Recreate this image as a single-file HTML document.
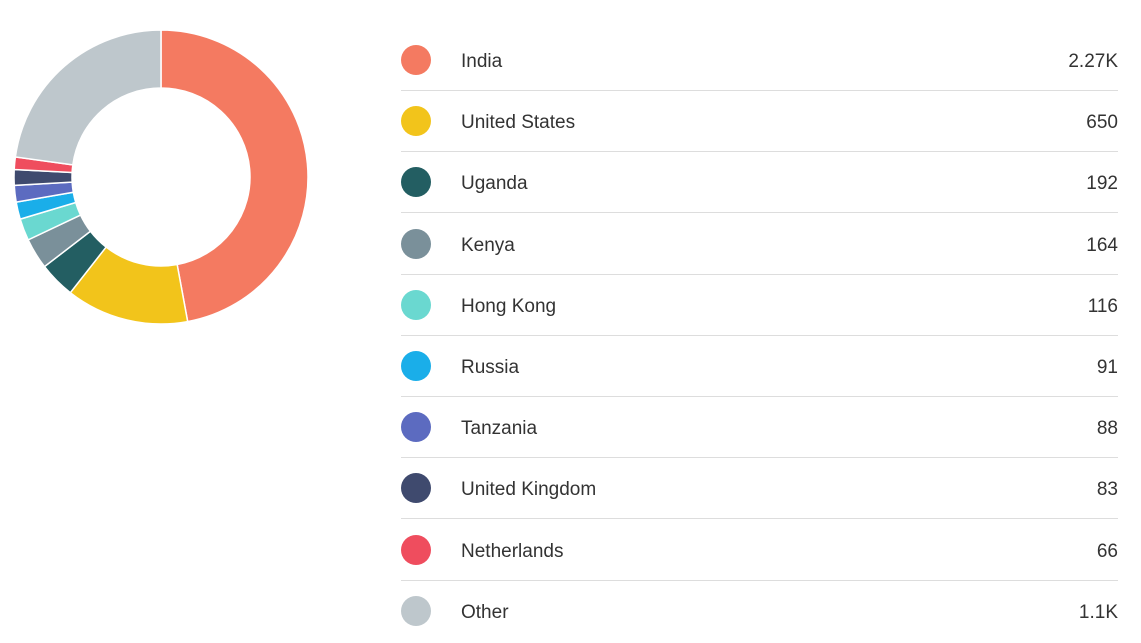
<!DOCTYPE html>
<html><head><meta charset="utf-8"><style>
body{margin:0;width:1141px;height:643px;background:#fff;font-family:"Liberation Sans",sans-serif;overflow:hidden;position:relative}
svg{position:absolute;left:0;top:0}
.row{position:absolute;left:401px;width:717px;height:61px;border-bottom:1px solid #ddd;box-sizing:border-box}
.row.last{border-bottom:none}
.dot{position:absolute;left:0;top:15px;width:30px;height:30px;border-radius:50%}
.lbl{position:absolute;left:60px;top:21px;font-size:19px;color:#333}
.val{position:absolute;right:0;top:21px;font-size:19px;color:#333}
</style></head><body>
<svg id="donut" width="330" height="340"></svg>
<div id="legend"></div>
<script>
const categories=["India","United States","Uganda","Kenya","Hong Kong","Russia","Tanzania","United Kingdom","Netherlands","Other"];
const values=[2270,650,192,164,116,91,88,83,66,1100];
const valueLabels=["2.27K","650","192","164","116","91","88","83","66","1.1K"];
const colors=["#F47A61","#F2C41B","#235E62","#7A909A","#6AD8D0","#1AAEE9","#5C6BC0","#3F4A6E","#EF4D5E","#BEC7CC"];
const svg=document.getElementById('donut');const NS="http://www.w3.org/2000/svg";
const cx=161,cy=177,R=147,r=89;
const total=values.reduce((a,b)=>a+b,0);
let a0=0;
function pt(a,rad){return [cx+rad*Math.sin(a),cy-rad*Math.cos(a)];}
values.forEach((v,i)=>{
 const a1=a0+v/total*2*Math.PI;
 const large=(a1-a0)>Math.PI?1:0;
 const p1=pt(a0,R),p2=pt(a1,R),p3=pt(a1,r),p4=pt(a0,r);
 const p=document.createElementNS(NS,'path');
 p.setAttribute('d',`M${p1[0]},${p1[1]}A${R},${R} 0 ${large} 1 ${p2[0]},${p2[1]}L${p3[0]},${p3[1]}A${r},${r} 0 ${large} 0 ${p4[0]},${p4[1]}Z`);
 p.setAttribute('fill',colors[i]);p.setAttribute('stroke','#fff');p.setAttribute('stroke-width','1.5');
 
 
 svg.appendChild(p);a0=a1;
});
const lg=document.getElementById('legend');
categories.forEach((c,i)=>{
 const row=document.createElement('div');row.className='row'+(i==categories.length-1?' last':'');
 row.style.top=(30+i*61.2)+'px';
 
 
 row.innerHTML=`<div class="dot" style="background:${colors[i]}"></div><div class="lbl">${c}</div><div class="val">${valueLabels[i]}</div>`;
 lg.appendChild(row);
});
</script>
</body></html>
